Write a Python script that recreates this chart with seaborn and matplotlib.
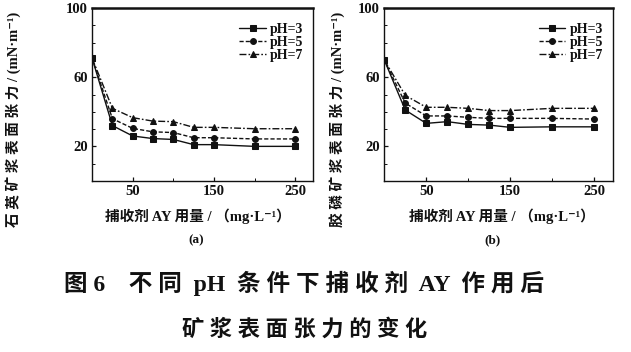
import numpy as np
import pandas as pd
import matplotlib
matplotlib.use("Agg")
import matplotlib.pyplot as plt
from matplotlib.ticker import MultipleLocator, FixedLocator
import seaborn as sns

sns.set_theme(style="ticks")
plt.rcParams['font.family'] = ['Liberation Serif', 'Noto Sans CJK SC', 'DejaVu Sans']

dosage = [0, 25, 50, 75, 100, 125, 150, 200, 250]
series_names = ["pH=3", "pH=5", "pH=7"]

quartz_ph3 = [71, 32, 26, 24.5, 24, 21, 21, 20, 20]
quartz_ph5 = [71, 36, 30.4, 28.4, 28, 25, 25, 24.3, 24.3]
quartz_ph7 = [71, 42, 36.6, 34.6, 34.3, 31, 31, 30.2, 30.2]

apatite_ph3 = [70, 41, 33.3, 34.3, 32.7, 32.3, 31, 31.3, 31.3]
apatite_ph5 = [70, 45, 37.6, 37.6, 36.8, 36.2, 36.2, 36.2, 35.8]
apatite_ph7 = [70, 49.5, 42.6, 42.6, 42, 40.7, 40.7, 42, 42]

ylabel_a = "石 英 矿 浆 表 面 张 力 / (mN·m⁻¹)"
ylabel_b = "胶 磷 矿 浆 表 面 张 力 / (mN·m⁻¹)"
xlabel = "捕收剂 AY 用量 / （mg·L⁻¹）"
caption1 = "图 6    不 同  pH  条 件 下 捕 收 剂  AY  作 用 后"
caption2 = "矿 浆 表 面 张 力 的 变 化"


def make_df(vals):
    rows = []
    for name, v in zip(series_names, vals):
        for x, y in zip(dosage, v):
            rows.append({"dosage": x, "tension": y, "pH": name})
    return pd.DataFrame(rows)


df_a = make_df([quartz_ph3, quartz_ph5, quartz_ph7])
df_b = make_df([apatite_ph3, apatite_ph5, apatite_ph7])

fig = plt.figure(figsize=(6.31, 3.52), dpi=100)
ax_a = fig.add_axes([0.146, 0.486, 0.350, 0.491])
ax_b = fig.add_axes([0.609, 0.486, 0.362, 0.491])

markers = {"pH=3": "s", "pH=5": "o", "pH=7": "^"}
dashes = {"pH=3": "", "pH=5": (3, 1.5), "pH=7": (5, 1.5, 1.2, 1.5)}
palette = {n: "#111111" for n in series_names}

for ax, df in [(ax_a, df_a), (ax_b, df_b)]:
    sns.lineplot(data=df, x="dosage", y="tension", hue="pH", style="pH",
                 markers=markers, dashes=dashes, palette=palette,
                 markersize=4.2, linewidth=1.0, markeredgecolor="#111111",
                 ax=ax)
    ax.set_xlim(0, 272)
    ax.set_ylim(0, 100)
    ax.xaxis.set_major_locator(FixedLocator([50, 150, 250]))
    ax.xaxis.set_minor_locator(MultipleLocator(50))
    ax.yaxis.set_major_locator(FixedLocator([20, 60, 100]))
    ax.yaxis.set_minor_locator(MultipleLocator(10))
    ax.tick_params(axis="both", which="both", direction="in", color="#111111")
    ax.tick_params(which="major", length=3, width=0.9, labelsize=10.5, pad=3)
    ax.tick_params(which="minor", length=2, width=0.7)
    for lab in ax.get_xticklabels() + ax.get_yticklabels():
        lab.set_fontweight("bold")
        lab.set_color("#111111")
    for s in ax.spines.values():
        s.set_color("#111111")
        s.set_linewidth(1.0)
    ax.spines["top"].set_linewidth(1.8)
    ax.set_xlabel("")
    ax.set_ylabel("")
    leg = ax.legend(loc="upper right", frameon=False, fontsize=10,
                    handlelength=1.9, handletextpad=0.3, labelspacing=0.0,
                    borderaxespad=0.3, bbox_to_anchor=(1.0, 0.97))
    for t in leg.get_texts():
        t.set_fontweight("bold")
        t.set_color("#111111")

fig.text(0.021, 0.66, ylabel_a, rotation=90, ha="center", va="center",
         fontsize=10.5, fontweight="bold", color="#111111")
fig.text(0.534, 0.66, ylabel_b, rotation=90, ha="center", va="center",
         fontsize=10.5, fontweight="bold", color="#111111")
fig.text(0.314, 0.386, xlabel, ha="center", va="center",
         fontsize=10.5, fontweight="bold", color="#111111")
fig.text(0.796, 0.386, xlabel, ha="center", va="center",
         fontsize=10.5, fontweight="bold", color="#111111")
fig.text(0.311, 0.318, "(a)", ha="center", va="center", fontsize=9.5,
         fontweight="bold", color="#111111")
fig.text(0.781, 0.318, "(b)", ha="center", va="center", fontsize=9.5,
         fontweight="bold", color="#111111")
fig.text(0.482, 0.196, caption1, ha="center", va="center", fontsize=17,
         fontweight="bold", color="#111111")
fig.text(0.482, 0.0625, caption2, ha="center", va="center", fontsize=16,
         fontweight="bold", color="#111111")

fig.savefig("out.png", dpi=100)
